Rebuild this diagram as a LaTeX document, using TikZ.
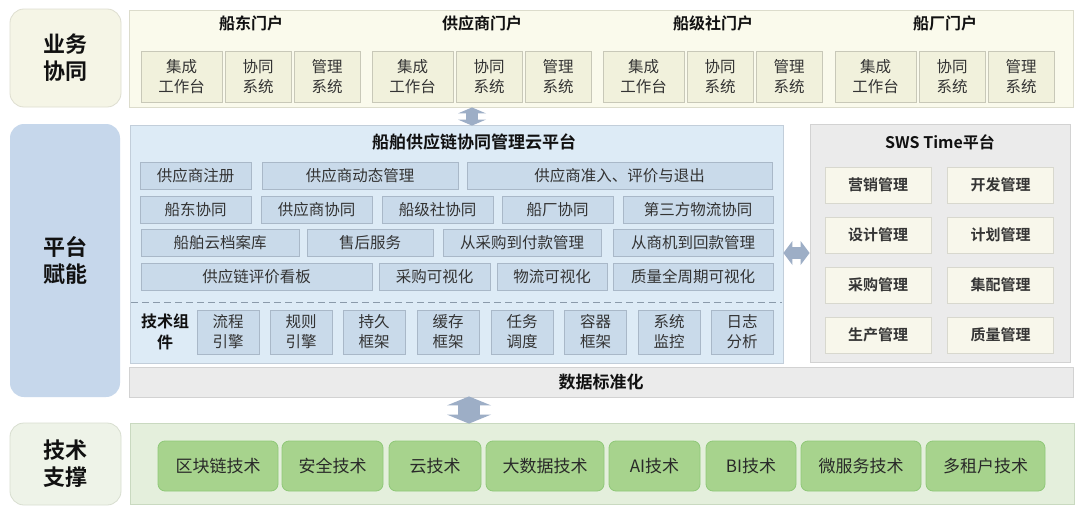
\documentclass[tikz,border=0pt]{standalone}
\usepackage{fontspec}
\setmainfont{Noto Sans CJK SC}[BoldFont={Noto Sans CJK SC Bold}]
\usetikzlibrary{arrows.meta}
\definecolor{txt}{HTML}{333333}
\definecolor{txtB}{HTML}{111111}
\definecolor{topLF}{HTML}{F5F5E6}
\definecolor{topLD}{HTML}{DEDED0}
\definecolor{topOF}{HTML}{FAFAEC}
\definecolor{topOD}{HTML}{DCDCCC}
\definecolor{subF}{HTML}{F1F1DC}
\definecolor{subD}{HTML}{C8C8B8}
\definecolor{midLF}{HTML}{C6D7EB}
\definecolor{midF}{HTML}{DDEBF6}
\definecolor{midD}{HTML}{C2CEDA}
\definecolor{rowF}{HTML}{C9DAEA}
\definecolor{rowD}{HTML}{A9B8C8}
\definecolor{grayF}{HTML}{EBEBEB}
\definecolor{grayD}{HTML}{D2D2D2}
\definecolor{swsF}{HTML}{F8F7EB}
\definecolor{swsD}{HTML}{D8D8CE}
\definecolor{botLF}{HTML}{EEF3E8}
\definecolor{botLD}{HTML}{D8DED0}
\definecolor{grnOF}{HTML}{E4EFDC}
\definecolor{grnOD}{HTML}{C9D9C0}
\definecolor{grnF}{HTML}{A7D38D}
\definecolor{grnD}{HTML}{8FC878}
\definecolor{arrC}{HTML}{9DAEC6}
\definecolor{dashC}{HTML}{8A9AAA}
\newcommand\fLabel{\bfseries\fontsize{22}{27}\selectfont}
\newcommand\fTitle{\bfseries\fontsize{16}{20}\selectfont}
\newcommand\fBody{\fontsize{15.5}{20}\selectfont}
\newcommand\fGreen{\fontsize{17}{20}\selectfont}
\begin{document}
\begin{tikzpicture}[x=1pt,y=-1pt,
  lbl/.style={rounded corners=14pt, inner sep=0pt, align=center, font=\fLabel, text=txtB, line width=0.8pt},
  outer/.style={inner sep=0pt, line width=0.8pt},
  box/.style={inner sep=0pt, align=center, font=\fBody, text=txt, line width=0.8pt},
  sub/.style={box, draw=subD, fill=subF, minimum height=51pt},
  row/.style={box, draw=rowD, fill=rowF, minimum height=27pt},
  tech/.style={box, draw=rowD, fill=rowF, minimum height=44pt, minimum width=62pt},
  sws/.style={box, draw=swsD, fill=swsF, minimum height=36pt, minimum width=106pt, font=\bfseries\fontsize{15}{20}\selectfont, text=txtB!85},
  grn/.style={box, draw=grnD, fill=grnF, rounded corners=7pt, minimum height=50pt, font=\fGreen, text=txtB!90},
  ttl/.style={font=\fTitle, text=txtB, inner sep=0pt},
]
\useasboundingbox (0,0) rectangle (1080,506);
\fill[white] (0,0) rectangle (1080,506);

% ---------- top layer ----------
\node[lbl, draw=topLD, fill=topLF, minimum width=111pt, minimum height=98pt] (lab1) at (65.5,58) {业务\\协同};
\node[outer, draw=topOD, fill=topOF, minimum width=944pt, minimum height=97pt] (topbox) at (601,58.5) {};
\foreach \g/\t/\n in {141/船东门户/a,372/供应商门户/b,603/船级社门户/c,835/船厂门户/d}{
  \node[ttl] (t\n) at (\g+110,23) {\t};
  \node[sub, minimum width=81pt] (s\n1) at (\g+40.5,76.5) {集成\\工作台};
  \node[sub, minimum width=66pt] (s\n2) at (\g+117,76.5) {协同\\系统};
  \node[sub, minimum width=66pt] (s\n3) at (\g+186,76.5) {管理\\系统};
}

% ---------- middle layer ----------
\node[lbl, fill=midLF, minimum width=110pt, minimum height=273pt] (lab2) at (65,260.5) {平台\\赋能};
\node[outer, draw=midD, fill=midF, minimum width=653pt, minimum height=238pt] (midbox) at (456.5,244) {};
\node[ttl, font=\bfseries\fontsize{17}{20}\selectfont] (midt) at (474,142) {船舶供应链协同管理云平台};

\node[row, minimum width=111pt] (r11) at (195.5,175.5) {供应商注册};
\node[row, minimum width=196pt] (r12) at (360,175.5) {供应商动态管理};
\node[row, minimum width=305pt] (r13) at (619.5,175.5) {供应商准入、评价与退出};

\node[row, minimum width=111pt] (r21) at (195.5,209.5) {船东协同};
\node[row, minimum width=111pt] (r22) at (316.5,209.5) {供应商协同};
\node[row, minimum width=111pt] (r23) at (437.5,209.5) {船级社协同};
\node[row, minimum width=111pt] (r24) at (557.5,209.5) {船厂协同};
\node[row, minimum width=150pt] (r25) at (698,209.5) {第三方物流协同};

\node[row, minimum width=158pt] (r31) at (220,243) {船舶云档案库};
\node[row, minimum width=126pt] (r32) at (370,243) {售后服务};
\node[row, minimum width=158pt] (r33) at (522,243) {从采购到付款管理};
\node[row, minimum width=160pt] (r34) at (693,243) {从商机到回款管理};

\node[row, minimum width=231pt] (r41) at (256.5,276.5) {供应链评价看板};
\node[row, minimum width=111pt] (r42) at (434.5,276.5) {采购可视化};
\node[row, minimum width=110pt] (r43) at (552,276.5) {物流可视化};
\node[row, minimum width=160pt] (r44) at (693,276.5) {质量全周期可视化};

\coordinate (dl) at (131,302);
\coordinate (dr) at (782,302);
\draw[dashC, dash pattern=on 7pt off 4pt, line width=1pt] (dl) -- (dr);

\node[ttl, align=center, font=\bfseries\fontsize{16}{21}\selectfont] (techl) at (165,332) {技术组\\件};
\foreach \x/\t [count=\i] in {228/流程\\引擎,301/规则\\引擎,374/持久\\框架,448/缓存\\框架,522/任务\\调度,595.5/容器\\框架,669/系统\\监控,742/日志\\分析}{
  \node[tech] (k\i) at (\x,332) {\t};
}

\node[outer, draw=grayD, fill=grayF, minimum width=260pt, minimum height=238pt] (swsbox) at (940,243) {};
\node[ttl, font=\bfseries\fontsize{16}{20}\selectfont] (swst) at (940,142) {SWS Time平台};
\node[sws] (w11) at (878,185) {营销管理};
\node[sws] (w12) at (1000.5,185) {开发管理};
\node[sws] (w21) at (878,235) {设计管理};
\node[sws] (w22) at (1000.5,235) {计划管理};
\node[sws] (w31) at (878,285) {采购管理};
\node[sws] (w32) at (1000.5,285) {集配管理};
\node[sws] (w41) at (878,335) {生产管理};
\node[sws] (w42) at (1000.5,335) {质量管理};

\node[outer, draw=grayD, fill=grayF, minimum width=944pt, minimum height=30pt, font=\bfseries\fontsize{17}{20}\selectfont, text=txtB] (data) at (601,382) {数据标准化};

% ---------- bottom layer ----------
\node[lbl, draw=botLD, fill=botLF, minimum width=111pt, minimum height=82pt] (lab3) at (65.5,464) {技术\\支撑};
\node[outer, draw=grnOD, fill=grnOF, minimum width=944pt, minimum height=81pt] (botbox) at (602,463.5) {};
\node[grn, minimum width=120pt] (g1) at (218,466) {区块链技术};
\node[grn, minimum width=101pt] (g2) at (332.5,466) {安全技术};
\node[grn, minimum width=92pt] (g3) at (435,466) {云技术};
\node[grn, minimum width=118pt] (g4) at (545,466) {大数据技术};
\node[grn, minimum width=91pt] (g5) at (654.5,466) {AI技术};
\node[grn, minimum width=90pt] (g6) at (751,466) {BI技术};
\node[grn, minimum width=120pt] (g7) at (861,466) {微服务技术};
\node[grn, minimum width=119pt] (g8) at (985.5,466) {多租户技术};

% ---------- connectors (double arrows) ----------
\coordinate (ax1) at (472,0);
\coordinate (ax2) at (469,0);
\coordinate (ay) at (0,253);
\draw[arrC, line width=12pt, {Triangle[width=28pt,length=6pt,line width=0pt]}-{Triangle[width=28pt,length=6pt,line width=0pt]}]
  (topbox.south -| ax1) -- ([yshift=-1pt]midbox.north -| ax1);
\draw[arrC, line width=12pt, {Triangle[width=24pt,length=9pt,line width=0pt]}-{Triangle[width=24pt,length=9pt,line width=0pt]}]
  (midbox.east |- ay) -- (swsbox.west |- ay);
\draw[arrC, line width=22pt, {Triangle[width=44pt,length=9pt,line width=0pt]}-{Triangle[width=44pt,length=9pt,line width=0pt]}]
  ([yshift=1pt]data.south -| ax2) -- ([yshift=-1pt]botbox.north -| ax2);
\end{tikzpicture}
\end{document}
